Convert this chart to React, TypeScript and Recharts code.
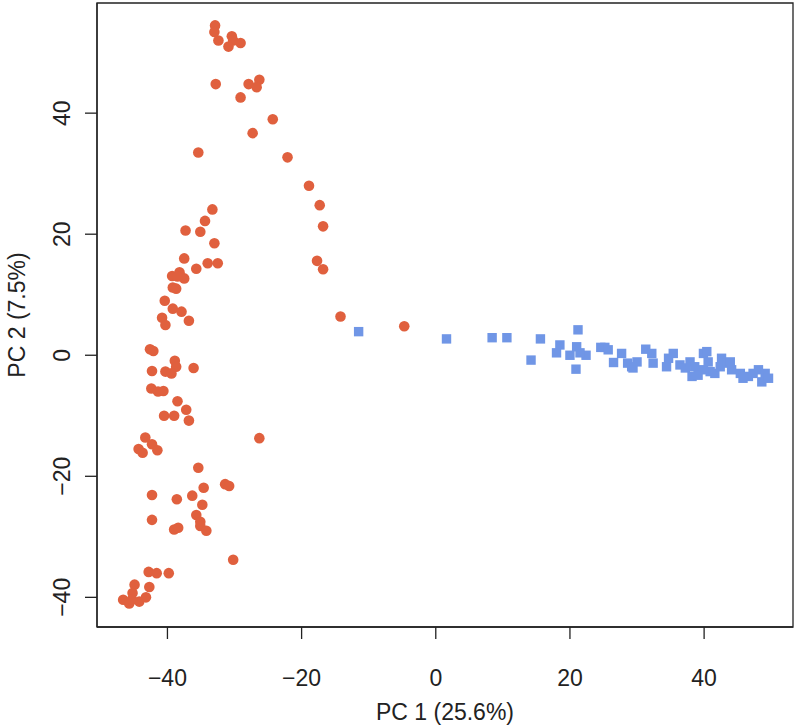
import { ScatterChart, Scatter, XAxis, YAxis, ReferenceArea } from 'recharts';

// PC1 / PC2 scores
const groupA: [number, number][] = [
  [-32.9, 54.5], [-33.0, 53.4], [-32.4, 52.0], [-30.4, 52.7], [-30.2, 52.0],
  [-30.9, 51.0], [-29.1, 51.6], [-32.8, 44.8], [-27.9, 44.8], [-26.3, 45.5],
  [-26.7, 44.3], [-29.1, 42.6], [-24.3, 39.0], [-27.3, 36.7], [-35.4, 33.5],
  [-22.1, 32.7], [-18.9, 28.0], [-17.3, 24.8], [-33.3, 24.1], [-34.4, 22.2],
  [-16.8, 21.3], [-37.3, 20.6], [-35.1, 20.4], [-33.0, 18.5], [-37.5, 16.0],
  [-35.7, 14.3], [-34.0, 15.2], [-32.5, 15.2], [-17.7, 15.6], [-16.8, 14.2],
  [-39.3, 13.1], [-38.2, 13.7], [-37.5, 12.7], [-38.5, 13.0], [-39.2, 11.2],
  [-38.7, 11.0], [-40.4, 9.0], [-39.2, 7.7], [-37.9, 7.2], [-40.8, 6.2],
  [-40.3, 5.0], [-36.8, 5.7], [-42.6, 1.0], [-42.1, 0.7], [-38.9, -0.9],
  [-38.7, -1.9], [-40.3, -2.7], [-39.4, -3.0], [-42.3, -2.6], [-36.1, -2.1],
  [-42.4, -5.5], [-41.4, -6.0], [-40.6, -5.9], [-38.5, -7.6], [-37.2, -9.0],
  [-40.5, -10.0], [-39.0, -10.0], [-36.8, -10.8], [-26.3, -13.7], [-43.3, -13.6],
  [-42.3, -14.7], [-41.5, -15.7], [-44.3, -15.5], [-43.7, -16.1], [-35.4, -18.6],
  [-31.4, -21.3], [-30.8, -21.6], [-34.6, -21.9], [-42.3, -23.1], [-38.6, -23.8],
  [-36.3, -23.2], [-34.8, -24.7], [-35.7, -26.4], [-35.1, -27.5], [-35.1, -28.2],
  [-34.2, -29.0], [-42.3, -27.2], [-39.0, -28.8], [-38.4, -28.5], [-30.2, -33.8],
  [-42.8, -35.8], [-41.6, -36.0], [-39.8, -36.0], [-44.9, -37.9], [-42.7, -38.3],
  [-45.2, -39.3], [-46.6, -40.4], [-45.7, -41.0], [-44.2, -40.7], [-43.2, -40.0],
  [-45.3, -40.4], [-14.2, 6.4], [-4.7, 4.8],
];

const groupB: [number, number][] = [
  [-11.5, 3.9], [1.6, 2.7], [8.4, 2.9], [10.6, 2.9], [15.6, 2.7], [14.2, -0.8],
  [21.2, 4.2], [18.5, 1.7], [18.0, 0.4], [21.0, 1.4], [20.0, 0.0], [20.9, -2.3],
  [22.4, 0.0], [21.5, 0.4], [24.6, 1.3], [25.2, 1.3], [25.7, 0.9], [27.7, 0.3],
  [26.5, -1.2], [28.6, -1.3], [29.4, -2.1], [30.0, -1.1], [29.2, -1.9], [31.3, 1.0],
  [32.2, 0.3], [32.4, -1.3], [34.4, -1.9], [34.7, -0.5], [35.4, 0.3], [36.4, -1.6],
  [37.2, -2.1], [37.9, -1.1], [38.2, -3.5], [38.6, -1.9], [39.1, -3.3], [39.9, 0.3],
  [40.4, 0.6], [40.6, -1.1], [40.9, -2.7], [39.9, -2.4], [41.6, -3.0], [42.4, -1.9],
  [42.6, -0.5], [43.4, -1.3], [43.9, -1.1], [44.1, -2.4], [45.4, -3.0], [45.8, -3.8],
  [46.6, -3.5], [47.3, -3.0], [48.1, -2.4], [48.6, -4.4], [49.1, -3.0], [49.6, -3.8],
];

const axisTicks = [-40, -20, 0, 20, 40];
const xDomain = [-50.5, 53.25];
const yDomain = [-44.9, 58.2];

const red = '#e0603e';
const blue = '#7096e6';
const ink = '#222';
const font = '"Liberation Sans", Arial, sans-serif';
const fontSize = 23;

const fmt = (v: number) => (v < 0 ? `\u2212${Math.abs(v)}` : `${v}`);

const XTick = ({ x, y, payload }: any) => (
  <text x={x} y={y + 45} textAnchor="middle" fontSize={fontSize} fontFamily={font} fill={ink}>
    {fmt(payload.value)}
  </text>
);

const YTick = ({ x, y, payload }: any) => (
  <text
    x={0}
    y={0}
    transform={`translate(${x - 13}, ${y}) rotate(-90)`}
    textAnchor="middle"
    fontSize={fontSize}
    fontFamily={font}
    fill={ink}
  >
    {fmt(payload.value)}
  </text>
);

const Dot = ({ cx, cy }: any) => <circle cx={cx} cy={cy} r={5.3} fill={red} />;
const Square = ({ cx, cy }: any) => (
  <rect x={cx - 4.7} y={cy - 4.7} width={9.4} height={9.4} fill={blue} />
);

export default function App() {
  const a = groupA.map(([pc1, pc2]) => ({ pc1, pc2 }));
  const b = groupB.map(([pc1, pc2]) => ({ pc1, pc2 }));
  return (
    <div style={{ width: 797, height: 726, background: '#fff' }}>
      <style>{'body{margin:0}'}</style>
      <ScatterChart width={797} height={726} margin={{ top: 3, right: 4, bottom: 0, left: 0 }}>
        <XAxis
          type="number"
          dataKey="pc1"
          domain={xDomain}
          ticks={axisTicks}
          allowDataOverflow
          height={99}
          tickSize={12}
          tickLine={{ stroke: ink, strokeWidth: 1.3 }}
          axisLine={{ stroke: ink, strokeWidth: 1.3 }}
          tick={<XTick />}
          label={{
            value: 'PC 1 (25.6%)',
            position: 'insideBottom',
            offset: 6,
            style: { fontSize, fontFamily: font, fill: ink },
          }}
        />
        <YAxis
          type="number"
          dataKey="pc2"
          domain={yDomain}
          ticks={axisTicks}
          allowDataOverflow
          width={97}
          tickSize={12}
          tickLine={{ stroke: ink, strokeWidth: 1.3 }}
          axisLine={{ stroke: ink, strokeWidth: 1.3 }}
          tick={<YTick />}
          label={{
            value: 'PC 2 (7.5%)',
            angle: -90,
            position: 'insideLeft',
            offset: 17,
            style: { fontSize, fontFamily: font, fill: ink, textAnchor: 'middle' },
          }}
        />
        <ReferenceArea
          x1={xDomain[0]}
          x2={xDomain[1]}
          y1={yDomain[0]}
          y2={yDomain[1]}
          fill="none"
          fillOpacity={0}
          stroke={ink}
          strokeWidth={1.3}
        />
        <Scatter data={a} shape={<Dot />} isAnimationActive={false} />
        <Scatter data={b} shape={<Square />} isAnimationActive={false} />
      </ScatterChart>
    </div>
  );
}
